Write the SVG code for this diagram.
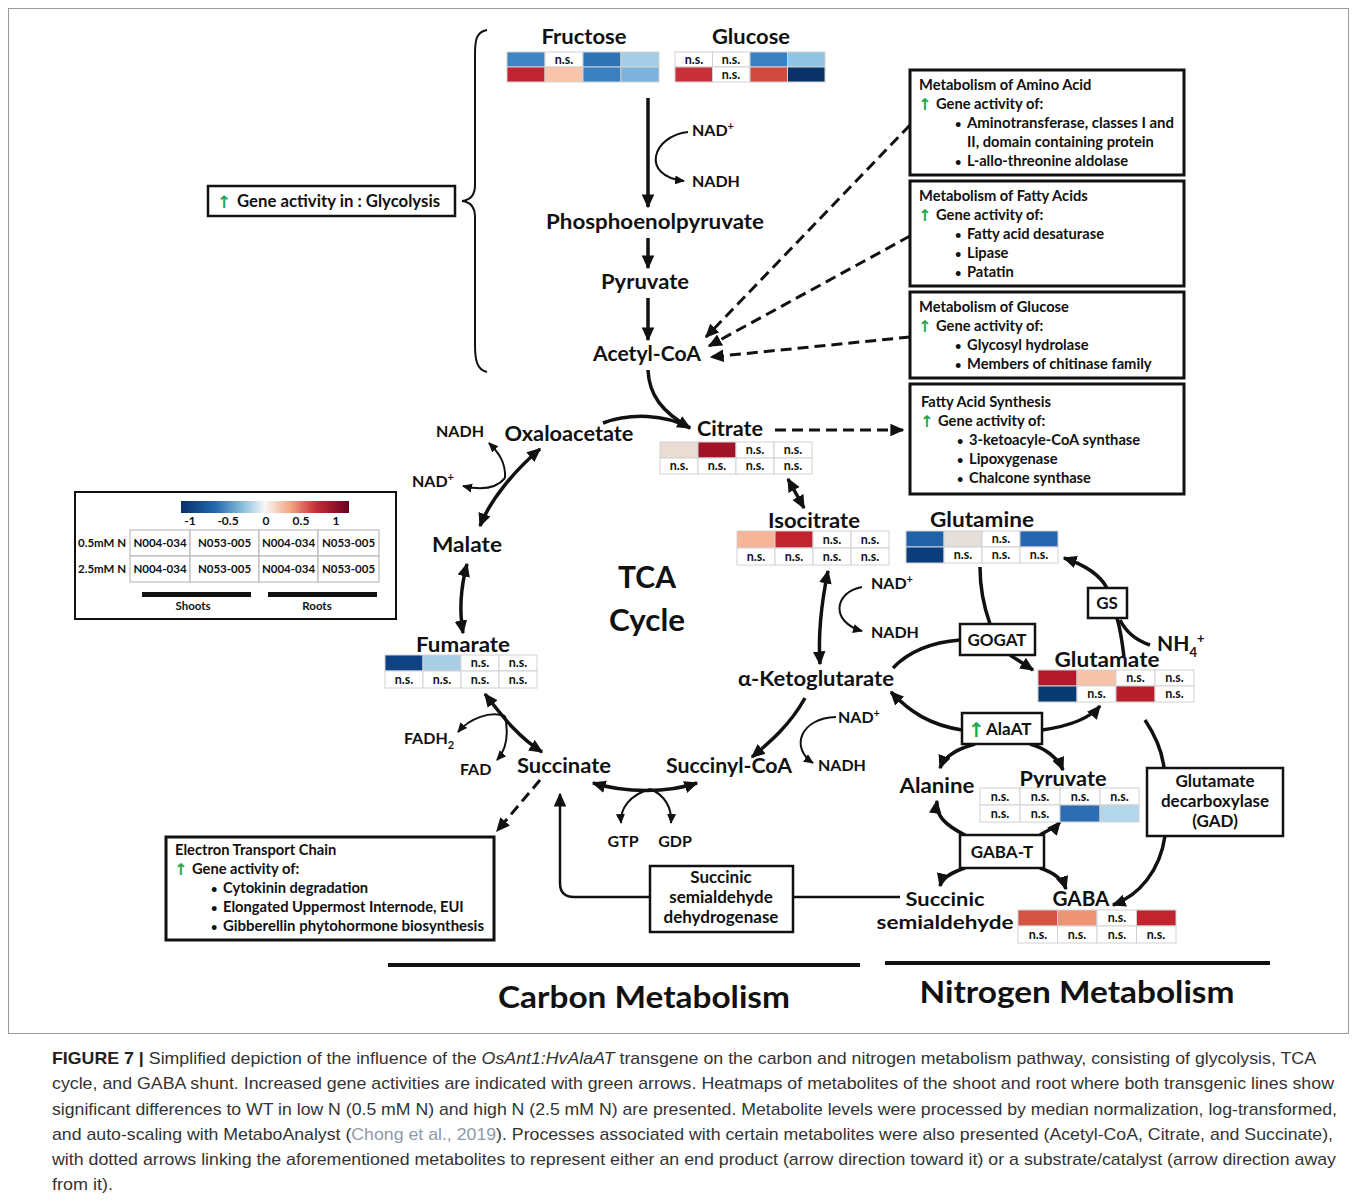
<svg xmlns="http://www.w3.org/2000/svg" width="1357" height="1201" viewBox="0 0 1357 1201">
<style>
.t{font-family:Lato,'Open Sans',sans-serif;font-weight:bold;fill:#111}
.m{text-anchor:middle}
.lb{font-size:21px}
.sm{font-size:16px}
.bx{font-size:14.7px}
.ns{font-family:Lato,'Open Sans',sans-serif;font-weight:bold;font-size:12.5px;text-anchor:middle;fill:#111}
.c{stroke:#d2d2d2;stroke-width:1}
.box{fill:#fff;stroke:#111;stroke-width:3}
.ln{fill:none;stroke:#111;stroke-width:3.5}
.th{fill:none;stroke:#111;stroke-width:2}
.ds{fill:none;stroke:#111;stroke-width:3;stroke-dasharray:11 6}
.g{font-family:'DejaVu Sans',sans-serif;fill:#1fa84a;font-weight:bold}
.cap{font-family:'Liberation Sans',Arial,sans-serif;font-size:17px;fill:#333}
</style>
<defs>
<marker id="a" viewBox="0 0 10 10" refX="9" refY="5" markerWidth="14" markerHeight="14" markerUnits="userSpaceOnUse" orient="auto-start-reverse"><path d="M0,0.5 L10,5 L0,9.5 Z" fill="#111"/></marker>
<marker id="s" viewBox="0 0 10 10" refX="9" refY="5" markerWidth="10" markerHeight="10" markerUnits="userSpaceOnUse" orient="auto-start-reverse"><path d="M0,0.5 L10,5 L0,9.5 Z" fill="#111"/></marker>
<linearGradient id="grad" x1="0" x2="1" y1="0" y2="0">
<stop offset="0" stop-color="#08306b"/><stop offset="0.2" stop-color="#2166ac"/><stop offset="0.38" stop-color="#92c5de"/><stop offset="0.5" stop-color="#f7f7f7"/><stop offset="0.65" stop-color="#f4a582"/><stop offset="0.8" stop-color="#c5303a"/><stop offset="1" stop-color="#67001f"/>
</linearGradient>
</defs>
<rect x="8.5" y="8.5" width="1340" height="1025" fill="none" stroke="#9a9a9a" stroke-width="1"/>

<!-- connectors -->
<g id="connectors">
<path class="ln" d="M648,98 L648,207" marker-end="url(#a)"/>
<path class="th" d="M688,132 C652,136 640,176 684,181" marker-end="url(#s)"/>
<path class="ln" d="M648,238 L648,268" marker-end="url(#a)"/>
<path class="ln" d="M648,298 L648,340" marker-end="url(#a)"/>
<path class="ln" d="M648,370 C649,395 662,412 690,428" marker-end="url(#a)"/>
<path class="ln" d="M603,423 C630,413 665,414 690,428"/>
<path class="ds" d="M910,125 L706,337" marker-end="url(#a)"/>
<path class="ds" d="M910,236 L709,346" marker-end="url(#a)"/>
<path class="ds" d="M910,337 L711,357" marker-end="url(#a)"/>
<path class="ds" d="M775,430 L903,430" marker-end="url(#a)"/>
<path class="ln" d="M540,449 C515,470 490,500 480,526" marker-start="url(#a)" marker-end="url(#a)"/>
<path class="th" d="M505,478 C506,462 498,452 489,443" marker-end="url(#s)"/>
<path class="th" d="M505,478 C496,489 480,490 463,486" marker-end="url(#s)"/>
<path class="ln" d="M467,564 C460,590 459,610 463,633" marker-start="url(#a)" marker-end="url(#a)"/>
<path class="ln" d="M485,694 C505,720 520,738 542,752" marker-start="url(#a)" marker-end="url(#a)"/>
<path class="th" d="M505,716 C490,711 470,718 458,732" marker-end="url(#s)"/>
<path class="th" d="M505,716 C509,735 506,750 497,760" marker-end="url(#s)"/>
<path class="ln" d="M593,783 C625,793 668,793 697,783" marker-start="url(#a)" marker-end="url(#a)"/>
<path class="th" d="M650,789 C630,795 620,808 621,823" marker-end="url(#s)"/>
<path class="th" d="M650,789 C665,795 672,808 671,823" marker-end="url(#s)"/>
<path class="ln" d="M805,698 C790,725 770,742 752,757" marker-end="url(#a)"/>
<path class="th" d="M836,717 C800,718 790,748 813,763" marker-end="url(#s)"/>
<path class="ln" d="M828,571 C822,600 818,635 820,664" marker-start="url(#a)" marker-end="url(#a)"/>
<path class="th" d="M862,587 C834,592 830,622 862,631" marker-end="url(#s)"/>
<path class="ln" d="M788,479 L804,508" marker-start="url(#a)" marker-end="url(#a)"/>
<path class="ds" d="M540,780 L497,831" marker-end="url(#a)"/>
<path class="th" style="stroke-width:2.5" d="M650,897 L574,897 Q560,897 560,883 L560,794" marker-end="url(#a)"/>
<path class="th" style="stroke-width:2.5" d="M793,897 L900,897"/>
<path class="ln" d="M980,567 C980,590 985,610 990,624"/>
<path class="ln" d="M893,668 C910,650 935,642 960,640"/>
<path class="ln" d="M1010,655 L1033,670" marker-end="url(#a)"/>
<path class="ln" d="M1124,657 C1122,640 1120,628 1117,618"/>
<path class="ln" d="M1150,645 C1135,640 1125,630 1120,620"/>
<path class="ln" d="M1107,588 C1100,575 1085,565 1064,558" marker-end="url(#a)"/>
<path class="ln" d="M962,730 C930,725 910,712 891,692" marker-end="url(#a)"/>
<path class="ln" d="M1042,730 C1070,726 1090,718 1100,706" marker-end="url(#a)"/>
<path class="ln" d="M975,744 C960,748 945,755 940,768" marker-end="url(#a)"/>
<path class="ln" d="M1030,744 C1045,748 1058,758 1063,770" marker-end="url(#a)"/>
<path class="ln" d="M1145,720 C1155,735 1162,750 1164,768"/>
<path class="ln" d="M1165,836 C1160,870 1140,895 1113,905" marker-end="url(#a)"/>
<path class="ln" d="M965,835 C945,825 935,815 937,801" marker-end="url(#a)"/>
<path class="ln" d="M1040,835 C1048,830 1055,828 1060,822" marker-end="url(#a)"/>
<path class="ln" d="M965,868 C950,873 942,878 940,886" marker-end="url(#a)"/>
<path class="ln" d="M1040,868 C1055,873 1063,880 1066,889" marker-end="url(#a)"/>
</g>

<!-- brace -->
<path class="th" d="M487,30 C476,32 475,40 475,55 L475,185 C475,195 471,200 462,201 C471,202 475,207 475,217 L475,345 C475,360 477,370 487,372"/>

<g id="glycolysis-box">
<rect class="box" x="208" y="186" width="247" height="30" style="stroke-width:2.5"/>
<text class="g" x="217" y="208" font-size="17">↑</text>
<text class="t" x="237" y="207" font-size="16.5" textLength="203" lengthAdjust="spacingAndGlyphs">Gene activity in : Glycolysis</text>
</g>

<g id="fructose">
<text class="t lb m" x="584" y="44" textLength="85" lengthAdjust="spacingAndGlyphs">Fructose</text>
<rect class="c" x="507" y="52" width="38" height="15" fill="#3f85c4"/>
<rect class="c" x="545" y="52" width="38" height="15" fill="#fff"/><text class="ns" x="564" y="64">n.s.</text>
<rect class="c" x="583" y="52" width="38" height="15" fill="#2f73b5"/>
<rect class="c" x="621" y="52" width="38" height="15" fill="#a6cde6"/>
<rect class="c" x="507" y="67" width="38" height="15" fill="#c02331"/>
<rect class="c" x="545" y="67" width="38" height="15" fill="#f8c4aa"/>
<rect class="c" x="583" y="67" width="38" height="15" fill="#3a80c1"/>
<rect class="c" x="621" y="67" width="38" height="15" fill="#7db3da"/>
</g>
<g id="glucose">
<text class="t lb m" x="751" y="44" textLength="78" lengthAdjust="spacingAndGlyphs">Glucose</text>
<rect class="c" x="675" y="52" width="37.5" height="15" fill="#fff"/><text class="ns" x="694" y="64">n.s.</text>
<rect class="c" x="712.5" y="52" width="37.5" height="15" fill="#fff"/><text class="ns" x="731" y="64">n.s.</text>
<rect class="c" x="750" y="52" width="37.5" height="15" fill="#3a80c1"/>
<rect class="c" x="787.5" y="52" width="37.5" height="15" fill="#91c3e2"/>
<rect class="c" x="675" y="67" width="37.5" height="15" fill="#c8313a"/>
<rect class="c" x="712.5" y="67" width="37.5" height="15" fill="#fff"/><text class="ns" x="731" y="79">n.s.</text>
<rect class="c" x="750" y="67" width="37.5" height="15" fill="#d04a3f"/>
<rect class="c" x="787.5" y="67" width="37.5" height="15" fill="#0a3266"/>
</g>

<g id="nad-1"><text class="t sm" x="692" y="136">NAD<tspan font-size="11" dy="-6">+</tspan></text></g>
<g id="nadh-1"><text class="t sm" x="692" y="187">NADH</text></g>
<g id="pep"><text class="t lb m" x="655" y="229" textLength="218" lengthAdjust="spacingAndGlyphs">Phosphoenolpyruvate</text></g>
<g id="pyruvate-1"><text class="t lb m" x="645" y="289" textLength="88" lengthAdjust="spacingAndGlyphs">Pyruvate</text></g>
<g id="acetyl-coa"><text class="t lb m" x="647" y="361" textLength="108" lengthAdjust="spacingAndGlyphs">Acetyl-CoA</text></g>

<g id="box-amino">
<rect class="box" x="910" y="70" width="274" height="105"/>
<text class="t bx" x="919" y="90">Metabolism of Amino Acid</text>
<text class="g" x="918" y="110" font-size="16">↑</text><text class="t bx" x="936" y="109">Gene activity of:</text>
<text class="t" x="955" y="128" font-size="11">•</text><text class="t bx" x="967" y="128" textLength="207" lengthAdjust="spacingAndGlyphs">Aminotransferase, classes I and</text>
<text class="t bx" x="967" y="147">II, domain containing protein</text>
<text class="t" x="955" y="166" font-size="11">•</text><text class="t bx" x="967" y="166">L-allo-threonine aldolase</text>
</g>
<g id="box-fatty">
<rect class="box" x="910" y="181" width="274" height="105"/>
<text class="t bx" x="919" y="201">Metabolism of Fatty Acids</text>
<text class="g" x="918" y="221" font-size="16">↑</text><text class="t bx" x="936" y="220">Gene activity of:</text>
<text class="t" x="955" y="239" font-size="11">•</text><text class="t bx" x="967" y="239">Fatty acid desaturase</text>
<text class="t" x="955" y="258" font-size="11">•</text><text class="t bx" x="967" y="258">Lipase</text>
<text class="t" x="955" y="277" font-size="11">•</text><text class="t bx" x="967" y="277">Patatin</text>
</g>
<g id="box-glucose">
<rect class="box" x="910" y="292" width="274" height="86"/>
<text class="t bx" x="919" y="312">Metabolism of Glucose</text>
<text class="g" x="918" y="332" font-size="16">↑</text><text class="t bx" x="936" y="331">Gene activity of:</text>
<text class="t" x="955" y="350" font-size="11">•</text><text class="t bx" x="967" y="350">Glycosyl hydrolase</text>
<text class="t" x="955" y="369" font-size="11">•</text><text class="t bx" x="967" y="369">Members of chitinase family</text>
</g>
<g id="box-fas">
<rect class="box" x="910" y="384" width="274" height="110"/>
<text class="t bx" x="921" y="407">Fatty Acid Synthesis</text>
<text class="g" x="920" y="427" font-size="16">↑</text><text class="t bx" x="938" y="426">Gene activity of:</text>
<text class="t" x="957" y="445" font-size="11">•</text><text class="t bx" x="969" y="445">3-ketoacyle-CoA synthase</text>
<text class="t" x="957" y="464" font-size="11">•</text><text class="t bx" x="969" y="464">Lipoxygenase</text>
<text class="t" x="957" y="483" font-size="11">•</text><text class="t bx" x="969" y="483">Chalcone synthase</text>
</g>

<g id="citrate">
<text class="t lb m" x="730" y="436" textLength="66" lengthAdjust="spacingAndGlyphs">Citrate</text>
<rect class="c" x="660" y="442" width="38" height="16" fill="#ebdcd3"/>
<rect class="c" x="698" y="442" width="38" height="16" fill="#a11427"/>
<rect class="c" x="736" y="442" width="38" height="16" fill="#fff"/><text class="ns" x="755" y="454">n.s.</text>
<rect class="c" x="774" y="442" width="38" height="16" fill="#fff"/><text class="ns" x="793" y="454">n.s.</text>
<rect class="c" x="660" y="458" width="38" height="16" fill="#fff"/><text class="ns" x="679" y="470">n.s.</text>
<rect class="c" x="698" y="458" width="38" height="16" fill="#fff"/><text class="ns" x="717" y="470">n.s.</text>
<rect class="c" x="736" y="458" width="38" height="16" fill="#fff"/><text class="ns" x="755" y="470">n.s.</text>
<rect class="c" x="774" y="458" width="38" height="16" fill="#fff"/><text class="ns" x="793" y="470">n.s.</text>
</g>
<g id="isocitrate">
<text class="t lb m" x="814" y="528" textLength="92" lengthAdjust="spacingAndGlyphs">Isocitrate</text>
<rect class="c" x="737" y="531" width="38" height="17" fill="#f6b597"/>
<rect class="c" x="775" y="531" width="38" height="17" fill="#c1232f"/>
<rect class="c" x="813" y="531" width="38" height="17" fill="#fff"/><text class="ns" x="832" y="544">n.s.</text>
<rect class="c" x="851" y="531" width="38" height="17" fill="#fff"/><text class="ns" x="870" y="544">n.s.</text>
<rect class="c" x="737" y="548" width="38" height="17" fill="#fff"/><text class="ns" x="756" y="561">n.s.</text>
<rect class="c" x="775" y="548" width="38" height="17" fill="#fff"/><text class="ns" x="794" y="561">n.s.</text>
<rect class="c" x="813" y="548" width="38" height="17" fill="#fff"/><text class="ns" x="832" y="561">n.s.</text>
<rect class="c" x="851" y="548" width="38" height="17" fill="#fff"/><text class="ns" x="870" y="561">n.s.</text>
</g>
<g id="glutamine">
<text class="t lb m" x="982" y="527" textLength="104" lengthAdjust="spacingAndGlyphs">Glutamine</text>
<rect class="c" x="906" y="531" width="38" height="16" fill="#2061a8"/>
<rect class="c" x="944" y="531" width="38" height="16" fill="#e4dfdb"/>
<rect class="c" x="982" y="531" width="38" height="16" fill="#fff"/><text class="ns" x="1001" y="543">n.s.</text>
<rect class="c" x="1020" y="531" width="38" height="16" fill="#2566ae"/>
<rect class="c" x="906" y="547" width="38" height="16" fill="#0b3d7a"/>
<rect class="c" x="944" y="547" width="38" height="16" fill="#fff"/><text class="ns" x="963" y="559">n.s.</text>
<rect class="c" x="982" y="547" width="38" height="16" fill="#fff"/><text class="ns" x="1001" y="559">n.s.</text>
<rect class="c" x="1020" y="547" width="38" height="16" fill="#fff"/><text class="ns" x="1039" y="559">n.s.</text>
</g>

<g id="oxaloacetate"><text class="t lb m" x="569" y="441" textLength="129" lengthAdjust="spacingAndGlyphs">Oxaloacetate</text></g>
<g id="nadh-2"><text class="t sm m" x="460" y="437">NADH</text></g>
<g id="nad-2"><text class="t sm" x="412" y="487">NAD<tspan font-size="11" dy="-6">+</tspan></text></g>
<g id="malate"><text class="t lb m" x="467" y="552" textLength="70" lengthAdjust="spacingAndGlyphs">Malate</text></g>
<g id="tca"><text class="t m" x="647" y="588" font-size="31" textLength="58" lengthAdjust="spacingAndGlyphs">TCA</text><text class="t m" x="647" y="631" font-size="31" textLength="76" lengthAdjust="spacingAndGlyphs">Cycle</text></g>
<g id="fumarate">
<text class="t lb m" x="463" y="652" textLength="94" lengthAdjust="spacingAndGlyphs">Fumarate</text>
<rect class="c" x="385" y="655" width="38" height="16" fill="#0f4283"/>
<rect class="c" x="423" y="655" width="38" height="16" fill="#a8cfe6"/>
<rect class="c" x="461" y="655" width="38" height="16" fill="#fff"/><text class="ns" x="480" y="667">n.s.</text>
<rect class="c" x="499" y="655" width="38" height="16" fill="#fff"/><text class="ns" x="518" y="667">n.s.</text>
<rect class="c" x="385" y="671" width="38" height="17" fill="#fff"/><text class="ns" x="404" y="684">n.s.</text>
<rect class="c" x="423" y="671" width="38" height="17" fill="#fff"/><text class="ns" x="442" y="684">n.s.</text>
<rect class="c" x="461" y="671" width="38" height="17" fill="#fff"/><text class="ns" x="480" y="684">n.s.</text>
<rect class="c" x="499" y="671" width="38" height="17" fill="#fff"/><text class="ns" x="518" y="684">n.s.</text>
</g>
<g id="fadh2"><text class="t sm" x="404" y="744">FADH<tspan font-size="11" dy="5">2</tspan></text></g>
<g id="fad"><text class="t sm" x="460" y="775">FAD</text></g>
<g id="succinate"><text class="t lb m" x="564" y="773" textLength="94" lengthAdjust="spacingAndGlyphs">Succinate</text></g>
<g id="succinyl-coa"><text class="t lb m" x="729" y="773" textLength="126" lengthAdjust="spacingAndGlyphs">Succinyl-CoA</text></g>
<g id="gtp"><text class="t sm m" x="623" y="847">GTP</text></g>
<g id="gdp"><text class="t sm m" x="675" y="847">GDP</text></g>
<g id="akg"><text class="t lb m" x="816" y="686" textLength="156" lengthAdjust="spacingAndGlyphs">α-Ketoglutarate</text></g>
<g id="nad-3"><text class="t sm" x="871" y="589">NAD<tspan font-size="11" dy="-6">+</tspan></text></g>
<g id="nadh-3"><text class="t sm" x="871" y="638">NADH</text></g>
<g id="nad-4"><text class="t sm" x="838" y="723">NAD<tspan font-size="11" dy="-6">+</tspan></text></g>
<g id="nadh-4"><text class="t sm" x="818" y="771">NADH</text></g>

<g id="gogat"><rect class="box" x="960" y="624" width="75" height="31" style="stroke-width:2.5"/><text class="t m" x="997" y="646" font-size="17">GOGAT</text></g>
<g id="gs"><rect class="box" x="1088" y="588" width="39" height="30" style="stroke-width:2.5"/><text class="t m" x="1107" y="609" font-size="17">GS</text></g>
<g id="nh4"><text class="t" x="1157" y="651" font-size="21">NH<tspan font-size="13" dy="6">4</tspan><tspan font-size="13" dy="-14">+</tspan></text></g>
<g id="glutamate">
<text class="t lb m" x="1107" y="667" textLength="105" lengthAdjust="spacingAndGlyphs">Glutamate</text>
<rect class="c" x="1038" y="670" width="39" height="16" fill="#b3192b"/>
<rect class="c" x="1077" y="670" width="39" height="16" fill="#f6c3aa"/>
<rect class="c" x="1116" y="670" width="39" height="16" fill="#fff"/><text class="ns" x="1135.5" y="682">n.s.</text>
<rect class="c" x="1155" y="670" width="39" height="16" fill="#fff"/><text class="ns" x="1174.5" y="682">n.s.</text>
<rect class="c" x="1038" y="686" width="39" height="16" fill="#083b72"/>
<rect class="c" x="1077" y="686" width="39" height="16" fill="#fff"/><text class="ns" x="1096.5" y="698">n.s.</text>
<rect class="c" x="1116" y="686" width="39" height="16" fill="#b81f2d"/>
<rect class="c" x="1155" y="686" width="39" height="16" fill="#fff"/><text class="ns" x="1174.5" y="698">n.s.</text>
</g>
<g id="alaat"><rect class="box" x="962" y="713" width="80" height="31" style="stroke-width:2.5"/><text class="g" x="968" y="737" font-size="20">↑</text><text class="t" x="986" y="735" font-size="17">AlaAT</text></g>
<g id="alanine"><text class="t lb m" x="937" y="793" textLength="75" lengthAdjust="spacingAndGlyphs">Alanine</text></g>
<g id="pyruvate-2">
<text class="t lb m" x="1063" y="786" textLength="87" lengthAdjust="spacingAndGlyphs">Pyruvate</text>
<rect class="c" x="980" y="788" width="40" height="17" fill="#fff"/><text class="ns" x="1000" y="801">n.s.</text>
<rect class="c" x="1020" y="788" width="40" height="17" fill="#fff"/><text class="ns" x="1040" y="801">n.s.</text>
<rect class="c" x="1060" y="788" width="40" height="17" fill="#fff"/><text class="ns" x="1080" y="801">n.s.</text>
<rect class="c" x="1100" y="788" width="39" height="17" fill="#fff"/><text class="ns" x="1119.5" y="801">n.s.</text>
<rect class="c" x="980" y="805" width="40" height="17" fill="#fff"/><text class="ns" x="1000" y="818">n.s.</text>
<rect class="c" x="1020" y="805" width="40" height="17" fill="#fff"/><text class="ns" x="1040" y="818">n.s.</text>
<rect class="c" x="1060" y="805" width="40" height="17" fill="#2c6db3"/>
<rect class="c" x="1100" y="805" width="39" height="17" fill="#b4d6ea"/>
</g>
<g id="gad"><rect class="box" x="1147" y="768" width="136" height="68" style="stroke-width:2.5"/>
<text class="t m" x="1215" y="787" font-size="17">Glutamate</text>
<text class="t m" x="1215" y="807" font-size="17">decarboxylase</text>
<text class="t m" x="1215" y="827" font-size="17">(GAD)</text></g>
<g id="gabat"><rect class="box" x="960" y="835" width="84" height="33" style="stroke-width:2.5"/><text class="t m" x="1002" y="858" font-size="17">GABA-T</text></g>
<g id="ssa"><text class="t m" x="945" y="906" font-size="18.5" textLength="79" lengthAdjust="spacingAndGlyphs">Succinic</text><text class="t m" x="945" y="929" font-size="18.5" textLength="137" lengthAdjust="spacingAndGlyphs">semialdehyde</text></g>
<g id="gaba">
<text class="t lb m" x="1081" y="906" textLength="57" lengthAdjust="spacingAndGlyphs">GABA</text>
<rect class="c" x="1018" y="910" width="39.5" height="16" fill="#d35443"/>
<rect class="c" x="1057.5" y="910" width="39.5" height="16" fill="#ee9475"/>
<rect class="c" x="1097" y="910" width="39.5" height="16" fill="#fff"/><text class="ns" x="1117" y="922">n.s.</text>
<rect class="c" x="1136.5" y="910" width="39.5" height="16" fill="#c1262f"/>
<rect class="c" x="1018" y="926" width="39.5" height="17" fill="#fff"/><text class="ns" x="1038" y="939">n.s.</text>
<rect class="c" x="1057.5" y="926" width="39.5" height="17" fill="#fff"/><text class="ns" x="1077" y="939">n.s.</text>
<rect class="c" x="1097" y="926" width="39.5" height="17" fill="#fff"/><text class="ns" x="1117" y="939">n.s.</text>
<rect class="c" x="1136.5" y="926" width="39.5" height="17" fill="#fff"/><text class="ns" x="1156" y="939">n.s.</text>
</g>
<g id="ssadh"><rect class="box" x="650" y="866" width="143" height="66" style="stroke-width:2.5"/>
<text class="t m" x="721" y="883" font-size="17">Succinic</text>
<text class="t m" x="721" y="903" font-size="17">semialdehyde</text>
<text class="t m" x="721" y="923" font-size="17">dehydrogenase</text></g>

<g id="box-etc">
<rect class="box" x="166" y="837" width="328" height="103"/>
<text class="t bx" x="175" y="855">Electron Transport Chain</text>
<text class="g" x="174" y="875" font-size="16">↑</text><text class="t bx" x="192" y="874">Gene activity of:</text>
<text class="t" x="211" y="893" font-size="11">•</text><text class="t bx" x="223" y="893">Cytokinin degradation</text>
<text class="t" x="211" y="912" font-size="11">•</text><text class="t bx" x="223" y="912">Elongated Uppermost Internode, EUI</text>
<text class="t" x="211" y="931" font-size="11">•</text><text class="t bx" x="223" y="931" textLength="261" lengthAdjust="spacingAndGlyphs">Gibberellin phytohormone biosynthesis</text>
</g>

<g id="legend">
<rect x="75" y="492" width="321" height="127" fill="#fff" stroke="#111" stroke-width="2"/>
<rect x="181" y="501" width="168" height="12" fill="url(#grad)"/>
<g class="t m" font-size="12"><text x="190" y="525">-1</text><text x="228" y="525">-0.5</text><text x="266" y="525">0</text><text x="301" y="525">0.5</text><text x="336" y="525">1</text></g>
<g fill="#fff" stroke="#b0b0b0" stroke-width="1">
<rect x="130" y="530" width="60" height="26"/><rect x="190" y="530" width="69" height="26"/><rect x="259" y="530" width="59" height="26"/><rect x="318" y="530" width="61" height="26"/>
<rect x="130" y="556" width="60" height="26"/><rect x="190" y="556" width="69" height="26"/><rect x="259" y="556" width="59" height="26"/><rect x="318" y="556" width="61" height="26"/>
</g>
<g class="t" font-size="11.5"><text x="78" y="547">0.5mM N</text><text x="78" y="573">2.5mM N</text></g>
<g class="t m" font-size="11.5">
<text x="160" y="547">N004-034</text><text x="224.5" y="547">N053-005</text><text x="288.5" y="547">N004-034</text><text x="348.5" y="547">N053-005</text>
<text x="160" y="573">N004-034</text><text x="224.5" y="573">N053-005</text><text x="288.5" y="573">N004-034</text><text x="348.5" y="573">N053-005</text>
</g>
<rect x="142" y="592" width="109" height="5" fill="#111"/><rect x="268" y="592" width="109" height="5" fill="#111"/>
<text class="t m" x="193" y="610" font-size="11.5">Shoots</text><text class="t m" x="317" y="610" font-size="11.5">Roots</text>
</g>

<g id="sections">
<rect x="388" y="963" width="472" height="4" fill="#111"/>
<rect x="885" y="961" width="385" height="4" fill="#111"/>
<text class="t m" x="644" y="1008" font-size="30" textLength="292" lengthAdjust="spacingAndGlyphs">Carbon Metabolism</text>
<text class="t m" x="1077" y="1003" font-size="30" textLength="315" lengthAdjust="spacingAndGlyphs">Nitrogen Metabolism</text>
</g>

<g id="caption" class="cap">
<text x="52" y="1064" textLength="1264" lengthAdjust="spacingAndGlyphs"><tspan font-weight="bold" fill="#222">FIGURE 7 |</tspan> Simplified depiction of the influence of the <tspan font-style="italic">OsAnt1:HvAlaAT</tspan> transgene on the carbon and nitrogen metabolism pathway, consisting of glycolysis, TCA</text>
<text x="52" y="1089" textLength="1282" lengthAdjust="spacingAndGlyphs">cycle, and GABA shunt. Increased gene activities are indicated with green arrows. Heatmaps of metabolites of the shoot and root where both transgenic lines show</text>
<text x="52" y="1115" textLength="1285" lengthAdjust="spacingAndGlyphs">significant differences to WT in low N (0.5 mM N) and high N (2.5 mM N) are presented. Metabolite levels were processed by median normalization, log-transformed,</text>
<text x="52" y="1140" textLength="1281" lengthAdjust="spacingAndGlyphs">and auto-scaling with MetaboAnalyst (<tspan fill="#8d9aa9">Chong et al., 2019</tspan>). Processes associated with certain metabolites were also presented (Acetyl-CoA, Citrate, and Succinate),</text>
<text x="52" y="1165" textLength="1284" lengthAdjust="spacingAndGlyphs">with dotted arrows linking the aforementioned metabolites to represent either an end product (arrow direction toward it) or a substrate/catalyst (arrow direction away</text>
<text x="52" y="1190" textLength="61" lengthAdjust="spacingAndGlyphs">from it).</text>
</g>
</svg>
